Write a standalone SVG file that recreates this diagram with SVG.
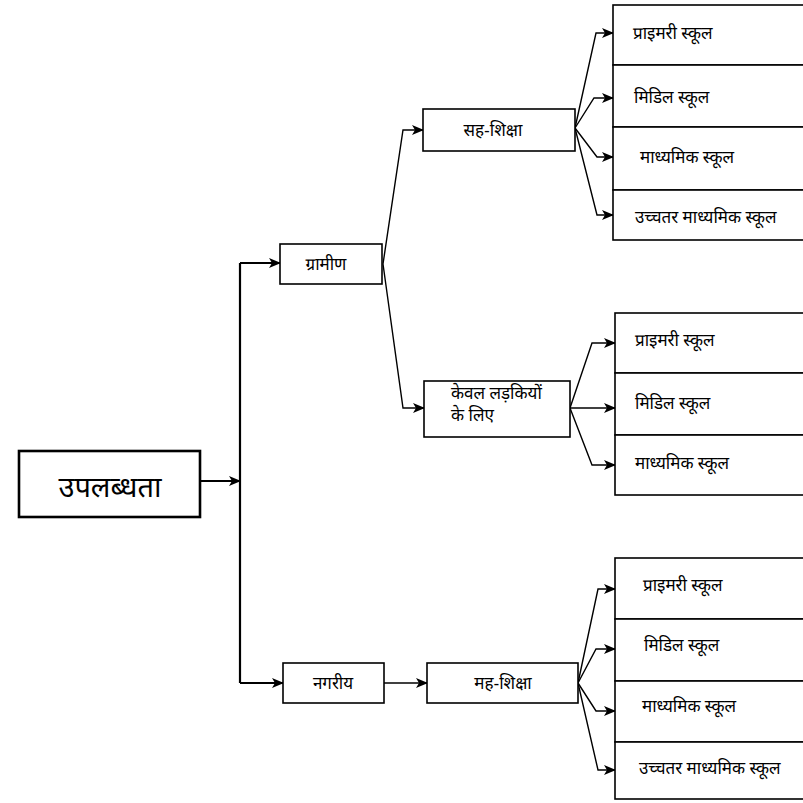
<svg xmlns="http://www.w3.org/2000/svg" width="803" height="803" viewBox="0 0 803 803">
  <defs>
    <marker id="arrow" markerUnits="userSpaceOnUse" markerWidth="12" markerHeight="10" viewBox="0 0 12 10" refX="11" refY="5" orient="auto">
      <path d="M0,0 L12,5 L0,10 L3,5 Z" fill="#000"/>
    </marker>
    <style>
      .box { fill: #fff; stroke: #000; stroke-width: 1.6; }
      .root { fill: #fff; stroke: #000; stroke-width: 2.6; }
      .lbl { font-family: "Noto Sans Devanagari", "Lohit Devanagari", "Noto Serif Devanagari", "Noto Sans", sans-serif; font-size: 17px; fill: #000; }
      .mid { text-anchor: middle; }
      .big { font-size: 29px; }
      .wire { fill: none; stroke: #000; stroke-width: 1.4; }
      .trunk { fill: none; stroke: #000; stroke-width: 2.2; }
    </style>
  </defs>
  <rect width="803" height="803" fill="#fff"/>

  <!-- connectors -->
  <g id="connectors">
    <path class="trunk" d="M200,481 H240" marker-end="url(#arrow)"/>
    <path class="trunk" d="M240,263 V683"/>
    <path class="trunk" d="M240,263 H280" marker-end="url(#arrow)"/>
    <path class="trunk" d="M240,683 H283" marker-end="url(#arrow)"/>
    <path class="wire" d="M384,683 H427" marker-end="url(#arrow)"/>

    <path class="wire" d="M383,264 L403,130 H423" marker-end="url(#arrow)"/>
    <path class="wire" d="M383,264 L403,408 H424" marker-end="url(#arrow)"/>

    <path class="wire" d="M575,128 L596,33 H613" marker-end="url(#arrow)"/>
    <path class="wire" d="M575,128 L594,98 H613" marker-end="url(#arrow)"/>
    <path class="wire" d="M575,128 L597,157 H613" marker-end="url(#arrow)"/>
    <path class="wire" d="M575,128 L597,215 H613" marker-end="url(#arrow)"/>

    <path class="wire" d="M570,408 L592,343 H615" marker-end="url(#arrow)"/>
    <path class="wire" d="M570,408 H615" marker-end="url(#arrow)"/>
    <path class="wire" d="M570,408 L592,465 H615" marker-end="url(#arrow)"/>

    <path class="wire" d="M578,683 L598,589 H615" marker-end="url(#arrow)"/>
    <path class="wire" d="M578,683 L596,649 H615" marker-end="url(#arrow)"/>
    <path class="wire" d="M578,683 L596,711 H615" marker-end="url(#arrow)"/>
    <path class="wire" d="M578,683 L598,770 H615" marker-end="url(#arrow)"/>
  </g>

  <g id="availability">
    <rect class="root" x="19" y="451" width="181" height="66"/>
    <text class="lbl big mid" x="110" y="497">उपलब्धता</text>
  </g>

  <g id="rural">
    <rect class="box" x="280" y="244" width="102" height="40"/>
    <text class="lbl mid" x="326" y="270">ग्रामीण</text>
  </g>

  <g id="urban">
    <rect class="box" x="283" y="663" width="101" height="40"/>
    <text class="lbl mid" x="333" y="689">नगरीय</text>
  </g>

  <g id="rural-coed">
    <rect class="box" x="423" y="109" width="152" height="42"/>
    <text class="lbl mid" x="493" y="136">सह-शिक्षा</text>
  </g>

  <g id="rural-girls">
    <rect class="box" x="424" y="381" width="146" height="56"/>
    <text class="lbl" x="451" y="399">केवल लड़कियों</text>
    <text class="lbl" x="451" y="421">के लिए</text>
  </g>

  <g id="urban-coed">
    <rect class="box" x="427" y="663" width="151" height="40"/>
    <text class="lbl mid" x="503" y="689">मह-शिक्षा</text>
  </g>

  <!-- rural co-educational schools -->
  <g id="rural-coed-schools">
    <rect class="box" x="613" y="5" width="200" height="60"/>
    <rect class="box" x="613" y="65" width="200" height="62"/>
    <rect class="box" x="613" y="127" width="200" height="63"/>
    <rect class="box" x="613" y="190" width="200" height="50"/>
    <text class="lbl" x="633" y="39">प्राइमरी स्कूल</text>
    <text class="lbl" x="634" y="103">मिडिल स्कूल</text>
    <text class="lbl" x="640" y="163">माध्यमिक स्कूल</text>
    <text class="lbl" x="635" y="223">उच्चतर माध्यमिक स्कूल</text>
  </g>

  <!-- rural girls-only schools -->
  <g id="rural-girls-schools">
    <rect class="box" x="615" y="313" width="200" height="60"/>
    <rect class="box" x="615" y="373" width="200" height="62"/>
    <rect class="box" x="615" y="435" width="200" height="60"/>
    <text class="lbl" x="635" y="346">प्राइमरी स्कूल</text>
    <text class="lbl" x="635" y="409">मिडिल स्कूल</text>
    <text class="lbl" x="635" y="469">माध्यमिक स्कूल</text>
  </g>

  <!-- urban co-educational schools -->
  <g id="urban-coed-schools">
    <rect class="box" x="615" y="558" width="200" height="61"/>
    <rect class="box" x="615" y="619" width="200" height="62"/>
    <rect class="box" x="615" y="681" width="200" height="61"/>
    <rect class="box" x="615" y="742" width="200" height="57"/>
    <text class="lbl" x="643" y="591">प्राइमरी स्कूल</text>
    <text class="lbl" x="644" y="651">मिडिल स्कूल</text>
    <text class="lbl" x="642" y="712">माध्यमिक स्कूल</text>
    <text class="lbl" x="639" y="774">उच्चतर माध्यमिक स्कूल</text>
  </g>
</svg>
